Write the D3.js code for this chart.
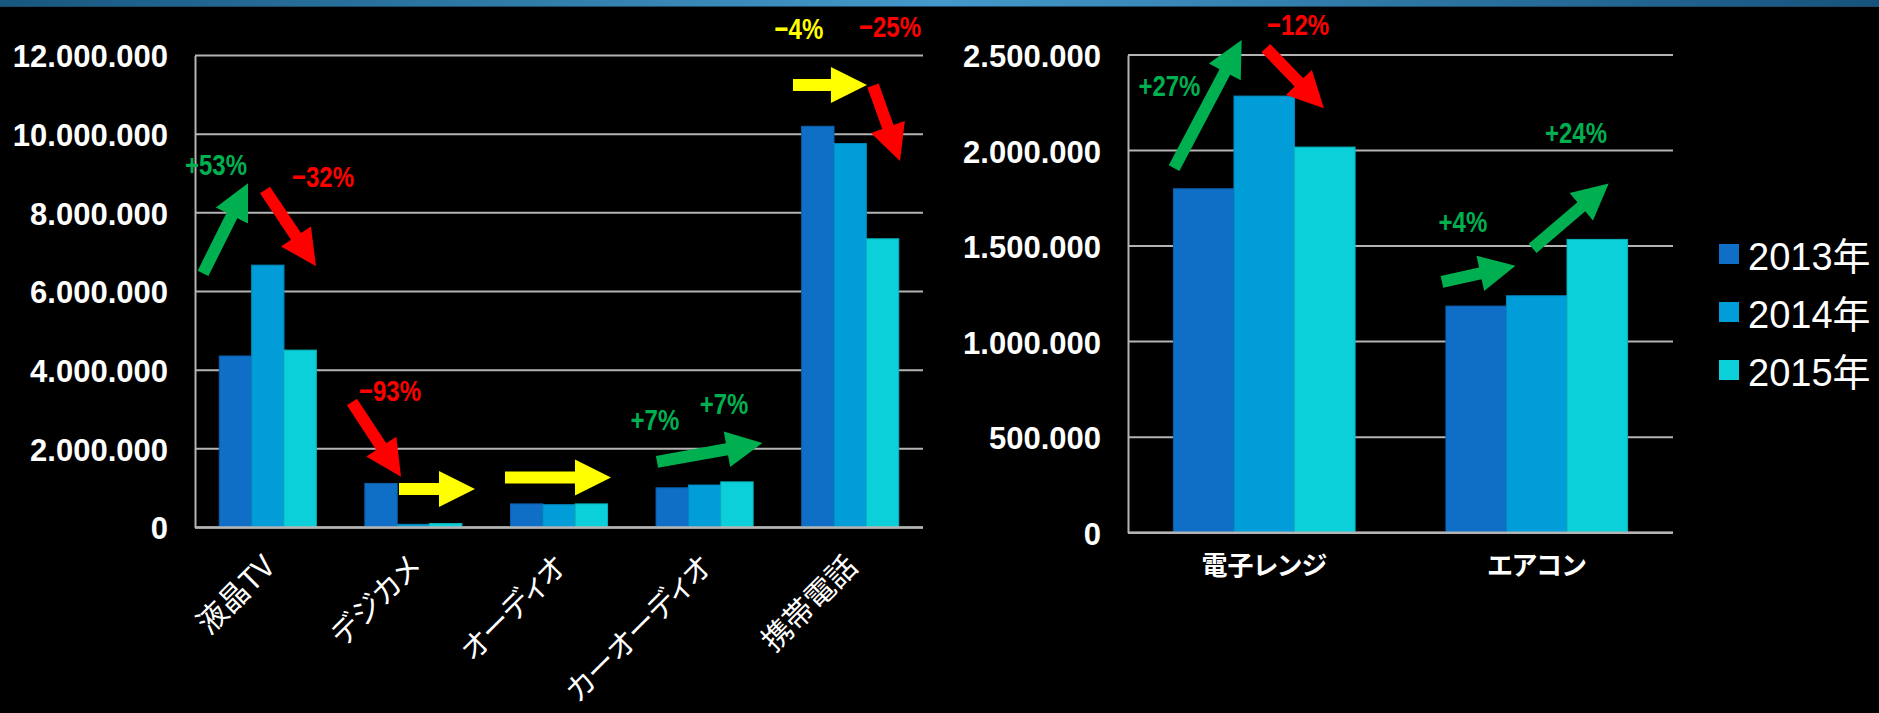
<!DOCTYPE html>
<html>
<head>
<meta charset="utf-8">
<script src="https://cdn.jsdelivr.net/npm/d3@7"></script>
<style>
  body { margin: 0; background: #000; }
  svg { display: block; }
  text { font-family: "Liberation Sans", Arial, "Noto Sans CJK JP", sans-serif; }
  .cjk { font-family: "Noto Sans CJK JP", "Liberation Sans", sans-serif; font-feature-settings: "palt"; }
  .pct { font-family: "Liberation Sans", Arial, sans-serif; font-weight: bold; }
</style>
</head>
<body>
<svg id="chart"></svg>
<script>
const years = ["2013年", "2014年", "2015年"];
const colors = ["#0F6FC6", "#009DD9", "#0BD0D9"];

const leftCats = ["液晶TV", "デジカメ", "オーディオ", "カーオーディオ", "携帯電話"];
const left2013 = [4360000, 1120000, 600000, 1010000, 10200000];
const left2014 = [6670000, 80000, 580000, 1080000, 9760000];
const left2015 = [4510000, 100000, 600000, 1160000, 7340000];
const leftTicks = [0, 2000000, 4000000, 6000000, 8000000, 10000000, 12000000];

const rightCats = ["電子レンジ", "エアコン"];
const right2013 = [1800000, 1186000];
const right2014 = [2285000, 1240000];
const right2015 = [2018000, 1535000];
const rightTicks = [0, 500000, 1000000, 1500000, 2000000, 2500000];

// annotation arrows: position along the category axis in band units, value on y
const green = "#00B050", red = "#FF0000", yellow = "#FFFF00";
const leftArrows = [
  { color: green, from: [0.055, 6460000], to: [0.364, 8750000] },
  { color: red, from: [0.481, 8580000], to: [0.831, 6640000] },
  { color: red, from: [1.078, 3190000], to: [1.415, 1290000] },
  { color: yellow, from: [1.401, 980000], to: [1.923, 980000] },
  { color: yellow, from: [2.129, 1270000], to: [2.857, 1270000] },
  { color: green, from: [3.173, 1670000], to: [3.897, 2150000] },
  { color: yellow, from: [4.107, 11250000], to: [4.615, 11250000] },
  { color: red, from: [4.657, 11240000], to: [4.842, 9320000] }
];
const leftNotes = [
  { text: "+53%", color: green, at: [0.144, 8950000] },
  { text: "−32%", color: red, at: [0.879, 8650000] },
  { text: "−93%", color: red, at: [1.339, 3210000] },
  { text: "+7%", color: green, at: [3.159, 2480000] },
  { text: "+7%", color: green, at: [3.633, 2880000] },
  { text: "−4%", color: yellow, at: [4.148, 12430000] },
  { text: "−25%", color: red, at: [4.773, 12480000] }
];
const rightArrows = [
  { color: green, from: [0.169, 1908000], to: [0.417, 2578000] },
  { color: red, from: [0.506, 2536000], to: [0.719, 2221000] },
  { color: green, from: [1.152, 1313000], to: [1.422, 1397000] },
  { color: green, from: [1.485, 1488000], to: [1.764, 1828000] }
];
const rightNotes = [
  { text: "+27%", color: green, at: [0.152, 2285000] },
  { text: "−12%", color: red, at: [0.624, 2604000] },
  { text: "+4%", color: green, at: [1.229, 1574000] },
  { text: "+24%", color: green, at: [1.644, 2039000] }
];

const width = 1879, height = 713;
const svg = d3.select("#chart").attr("width", width).attr("height", height);

// top band
const grad = svg.append("defs").append("linearGradient").attr("id", "band");
grad.append("stop").attr("offset", "0%").attr("stop-color", "#17577f");
grad.append("stop").attr("offset", "50%").attr("stop-color", "#4499ca");
grad.append("stop").attr("offset", "100%").attr("stop-color", "#16527c");
svg.append("rect").attr("width", width).attr("height", 6).attr("fill", "url(#band)");
svg.append("rect").attr("y", 6).attr("width", width).attr("height", 1).attr("fill", "#1d4a68");

const fmt = d3.formatLocale({ decimal: ",", thousands: ".", grouping: [3], currency: ["", ""] }).format(",d");

function arrowPoints(p1, p2, sw, hw, hl) {
  const dx = p2[0] - p1[0], dy = p2[1] - p1[1];
  const len = Math.hypot(dx, dy);
  const ux = dx / len, uy = dy / len;
  const px = -uy, py = ux;
  const bx = p2[0] - ux * hl, by = p2[1] - uy * hl;
  return [
    [p1[0] + px * sw / 2, p1[1] + py * sw / 2],
    [bx + px * sw / 2, by + py * sw / 2],
    [bx + px * hw / 2, by + py * hw / 2],
    p2,
    [bx - px * hw / 2, by - py * hw / 2],
    [bx - px * sw / 2, by - py * sw / 2],
    [p1[0] - px * sw / 2, p1[1] - py * sw / 2]
  ];
}

function drawChart(opt) {
  const g = svg.append("g");
  const x = d3.scaleBand().domain(opt.cats).range([opt.x0, opt.x1]);
  // gap width 50%: the three bars fill two thirds of each category
  const xGroup = d3.scaleBand().domain(years).range([0, x.bandwidth()]).paddingInner(0).paddingOuter(0.75);
  const y = d3.scaleLinear().domain([0, d3.max(opt.ticks)]).range([opt.y0, opt.y1]);
  const u = v => opt.x0 + v * x.step();

  // gridlines
  g.selectAll(".grid").data(opt.ticks).enter().append("line")
    .attr("x1", opt.x0).attr("x2", opt.x1)
    .attr("y1", d => y(d)).attr("y2", d => y(d))
    .attr("stroke", "#b4b4b4").attr("stroke-width", 2);

  const yAxis = d3.axisLeft(y).tickValues(opt.ticks).tickFormat(fmt).tickSize(0).tickPadding(27);
  const ya = g.append("g").attr("transform", `translate(${opt.x0},0)`).call(yAxis);
  ya.select(".domain").attr("stroke", "#b4b4b4").attr("stroke-width", 2);
  ya.selectAll("text").attr("fill", "#fff").attr("font-size", 31).attr("font-weight", "bold")
    .attr("dy", "0.37em").style("font-family", "'Liberation Sans', Arial, sans-serif");

  const rows = opt.cats.map((c, i) => ({ cat: c, vals: opt.series.map(s => s[i]) }));
  const grp = g.selectAll(".cat").data(rows).enter().append("g")
    .attr("transform", d => `translate(${x(d.cat)},0)`);
  grp.selectAll("rect").data(d => d.vals.map((v, k) => ({ year: years[k], v, k }))).enter().append("rect")
    .attr("x", d => xGroup(d.year))
    .attr("y", d => y(d.v))
    .attr("width", xGroup.bandwidth())
    .attr("height", d => opt.y0 - y(d.v))
    .attr("fill", d => colors[d.k])
    .attr("stroke", d => d3.color(colors[d.k]).darker(0.4))
    .attr("stroke-width", 1);

  // baseline
  g.append("line").attr("x1", opt.x0).attr("x2", opt.x1).attr("y1", opt.y0).attr("y2", opt.y0)
    .attr("stroke", "#b4b4b4").attr("stroke-width", 2.5);

  // category labels
  const lab = g.selectAll(".xl").data(opt.cats).enter().append("text")
    .attr("class", "cjk").attr("fill", "#fff").text(d => d);
  if (opt.rotate) {
    lab.attr("text-anchor", "end").attr("font-size", opt.labelSize)
      .attr("transform", d => `translate(${x(d) + x.bandwidth() / 2 + 9},${opt.y0 + 41}) rotate(-45)`);
  } else {
    lab.attr("text-anchor", "middle").attr("font-size", opt.labelSize).attr("font-weight", "bold")
      .attr("x", d => x(d) + x.bandwidth() / 2).attr("y", opt.y0 + 42);
  }

  // arrows
  g.selectAll(".arrow").data(opt.arrows).enter().append("polygon")
    .attr("points", d => arrowPoints([u(d.from[0]), y(d.from[1])], [u(d.to[0]), y(d.to[1])], 12, 36, 36).join(" "))
    .attr("fill", d => d.color);

  // percentage notes, squeezed horizontally like the condensed original face
  g.selectAll(".note").data(opt.notes).enter().append("text")
    .attr("class", "pct").attr("text-anchor", "middle").attr("font-size", 30)
    .attr("transform", d => `translate(${u(d.at[0])},${y(d.at[1])}) scale(0.8,1)`)
    .attr("fill", d => d.color).text(d => d.text);
}

drawChart({
  cats: leftCats, series: [left2013, left2014, left2015], ticks: leftTicks,
  x0: 195, x1: 923, y0: 527.5, y1: 55.5, rotate: true, labelSize: 30,
  arrows: leftArrows, notes: leftNotes
});
drawChart({
  cats: rightCats, series: [right2013, right2014, right2015], ticks: rightTicks,
  x0: 1128, x1: 1673, y0: 532.7, y1: 55, rotate: false, labelSize: 26,
  arrows: rightArrows, notes: rightNotes
});

// legend
const legend = svg.append("g").attr("transform", "translate(1719,244)");
const li = legend.selectAll("g").data(years).enter().append("g")
  .attr("transform", (d, i) => `translate(0,${i * 58})`);
li.append("rect").attr("width", 20).attr("height", 20).attr("fill", (d, i) => colors[i]);
li.append("text").attr("x", 29).attr("y", 26).attr("fill", "#fff").attr("font-size", 38).text(d => d);
</script>
</body>
</html>
